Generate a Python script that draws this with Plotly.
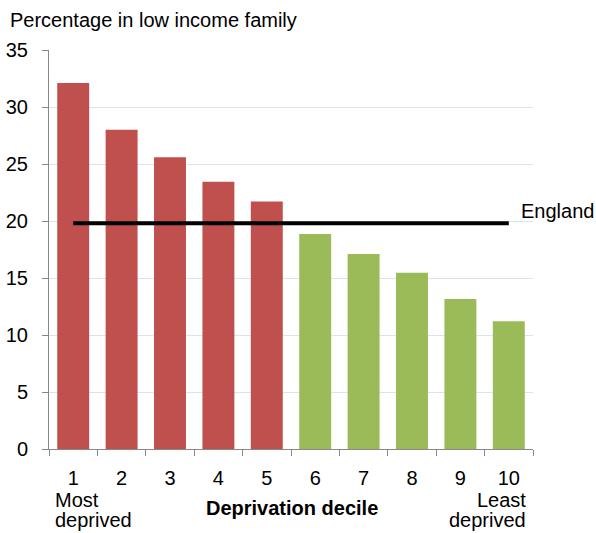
import plotly.graph_objects as go

# Share of children in low income families by deprivation decile
deciles = ["1", "2", "3", "4", "5", "6", "7", "8", "9", "10"]
percent_low_income = [32.1, 28.0, 25.6, 23.45, 21.7, 18.85, 17.1, 15.45, 13.15, 11.2]
england_average = 19.8

red = "#c0504d"
green = "#9bbb59"
bar_colors = [red] * 5 + [green] * 5

FONT = "Liberation Sans, Arial, sans-serif"

# plot-area geometry in pixels, used to place the free-floating labels
L, R, T, B = 49, 533, 50, 449
W, H = R - L, B - T


def px_x(x):
    return (x - L) / W


def px_y(y):
    return (B - y) / H


fig = go.Figure()
fig.add_trace(go.Bar(
    x=deciles,
    y=percent_low_income,
    marker=dict(color=bar_colors, line=dict(width=0)),
    hoverinfo="x+y",
))
fig.add_trace(go.Scatter(
    x=deciles,
    y=[england_average] * len(deciles),
    mode="lines",
    line=dict(color="black", width=4),
    hoverinfo="y",
))

fig.update_layout(
    width=596,
    height=533,
    margin=dict(l=L, r=596 - R, t=T, b=533 - B),
    paper_bgcolor="white",
    plot_bgcolor="white",
    showlegend=False,
    bargap=0.34,
    font=dict(family=FONT, size=20, color="black"),
)

fig.update_xaxes(
    type="category",
    automargin=False,
    showline=True,
    linecolor="#888888",
    linewidth=1,
    ticks="outside",
    tickson="boundaries",
    ticklen=6,
    tickcolor="#888888",
    showgrid=False,
    tickfont=dict(size=20),
    ticklabelstandoff=11,
)
fig.update_yaxes(
    automargin=False,
    range=[0, 35],
    dtick=5,
    showline=True,
    linecolor="#888888",
    linewidth=1,
    ticks="outside",
    ticklen=6,
    tickcolor="#888888",
    showgrid=True,
    gridcolor="#d9e4f2",
    gridwidth=1,
    zeroline=False,
    tickfont=dict(size=20),
    ticklabelstandoff=10,
)


def label(text, x, y, xanchor="left", yref="paper"):
    return dict(text=text, xref="paper", yref=yref, x=x, y=y,
                xanchor=xanchor, yanchor="middle", showarrow=False,
                font=dict(size=20))


annotations = [
    label("Percentage in low income family", px_x(8), px_y(20)),
    dict(label("England", px_x(519), england_average, yref="y"), yshift=12),
    label("Most", px_x(53), px_y(500)),
    label("deprived", px_x(53), px_y(520)),
    label("Least", px_x(528), px_y(500), xanchor="right"),
    label("deprived", px_x(528), px_y(520), xanchor="right"),
    label("<b>Deprivation decile</b>", px_x(292), px_y(508), xanchor="center"),
]
fig.update_layout(annotations=annotations)

fig.write_html("out.html")
